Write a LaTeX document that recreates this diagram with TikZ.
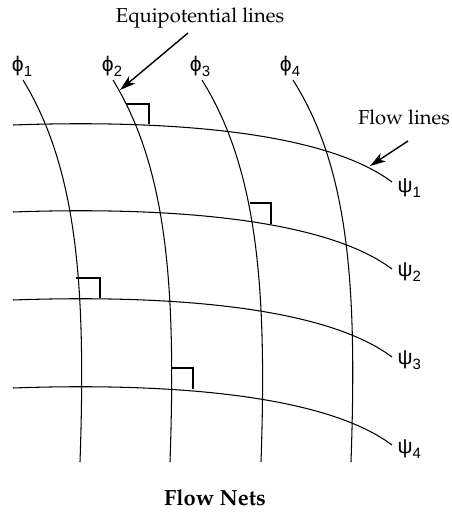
\documentclass[tikz,border=0pt]{standalone}
\usepackage[T1]{fontenc}
\usepackage{fontspec}
\usetikzlibrary{arrows.meta}
\newfontfamily\greekfont{Liberation Sans}
\newcommand\palfont{\fontencoding{T1}\fontfamily{ppl}\selectfont}
\newcommand\lblsub[1]{\raisebox{-0.45ex}{\fontsize{8.5}{8.5}\selectfont #1}}
\begin{document}
\begin{tikzpicture}[x={(0.02cm,0cm)}, y={(0cm,-0.02cm)}, line width=0.6pt,
  netline/.style={line width=0.6pt},
  rightangle/.style={line width=0.6pt},
  pointer/.style={-{Stealth[length=9pt,width=5.5pt,inset=2.5pt]}, line width=0.8pt},
  greeklbl/.style={font=\greekfont\fontsize{12}{12}\selectfont, inner sep=0pt},
  caption/.style={font=\palfont\fontsize{11.5}{13}\selectfont, inner sep=0pt}]
	\useasboundingbox (0,0) rectangle (451,512);

	% Equipotential lines
	\draw[netline] (23,80) .. controls (78,170) and (86,290) .. (80,462);
	\draw[netline] (113,80) .. controls (168,170) and (176,290) .. (170,462);
	\draw[netline] (202,80) .. controls (258,170) and (267,290) .. (261,462);
	\draw[netline] (293,80) .. controls (350,170) and (357,290) .. (351,462);

	% Flow lines
	\draw[netline] (13,125) .. controls (150,120) and (320,128) .. (392,182);
	\draw[netline] (13,212) .. controls (150,207) and (320,215) .. (392,269);
	\draw[netline] (13,300) .. controls (150,295) and (320,303) .. (392,357);
	\draw[netline] (13,388) .. controls (150,383) and (320,391) .. (392,445);

	% Right angles
	\draw[rightangle] (126.5,104) -- (149,104) -- (149,124);
	\draw[rightangle] (250,203) -- (271,203) -- (271,223.5);
	\draw[rightangle] (76,278) -- (100,278) -- (100,298);
	\draw[rightangle] (172,368) -- (193,368) -- (193,389);

	% Labels
	\node[greeklbl] (phi1) at (22,66) {ϕ\lblsub{1}};
	\node[greeklbl] (phi2) at (112,66) {ϕ\lblsub{2}};
	\node[greeklbl] (phi3) at (200,66) {ϕ\lblsub{3}};
	\node[greeklbl] (phi4) at (290,66) {ϕ\lblsub{4}};
	\node[greeklbl, anchor=west] (psi1) at (397,188) {ψ\lblsub{1}};
	\node[greeklbl, anchor=west] (psi2) at (397,272) {ψ\lblsub{2}};
	\node[greeklbl, anchor=west] (psi3) at (397,360) {ψ\lblsub{3}};
	\node[greeklbl, anchor=west] (psi4) at (397,449) {ψ\lblsub{4}};

	\node[caption] (eqlabel) at (200,18) {Equipotential lines};
	\node[caption] (flowlabel) at (404,117) {Flow lines};
	\node[caption, font=\palfont\bfseries\fontsize{12.5}{14}\selectfont] (title) at (215,498) {Flow Nets};

	% Pointers
	\coordinate (eqtail) at (188,33);
	\coordinate (eqtip) at (120,90);
	\coordinate (flowtail) at (408,141);
	\coordinate (flowtip) at (370,166);
	\draw[pointer] (eqtail) -- (eqtip);
	\draw[pointer] (flowtail) -- (flowtip);
\end{tikzpicture}
\end{document}
